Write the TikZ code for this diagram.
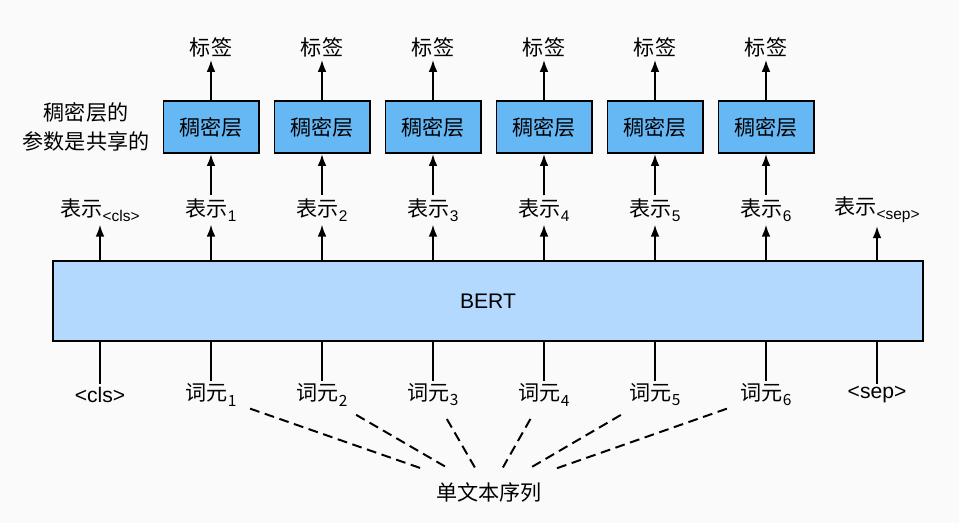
\documentclass[tikz,border=0pt]{standalone}
\usepackage{fontspec}
\setmainfont{Liberation Sans}
\newfontfamily\cjk{Noto Sans CJK SC}
\usetikzlibrary{arrows.meta,positioning}
\definecolor{densefill}{HTML}{66B8F5}
\definecolor{bertfill}{HTML}{B3D9FF}
\definecolor{bgcol}{HTML}{FAFAFA}
\newcommand{\lowtxt}[1]{\raisebox{-0.45ex}{\fontsize{11}{12}\selectfont #1}}

\begin{document}
\begin{tikzpicture}[x=0.025cm, y=-0.025cm,
      every node/.style={font=\fontsize{15}{18}\selectfont, inner sep=2pt},
      arr/.style={-{Latex[length=3mm,width=2.2mm]}, line width=1.4pt},
      ln/.style={line width=1.4pt},
      dsh/.style={line width=1.4pt, dash pattern=on 7pt off 4pt},
      densebox/.style={draw, line width=1.4pt, fill=densefill,
                       minimum width=2.375cm, minimum height=1.3cm},
      bertbox/.style={draw, line width=1.4pt, fill=bertfill,
                      minimum width=21.75cm, minimum height=2cm}
  ]

    % ---- Canvas ----
    \fill[bgcol] (0,0) rectangle (959,523);
    \useasboundingbox (0,0) rectangle (959,523);

    % ---- BERT block ----
    \node[bertbox] (bert) at (488,301) {BERT};

    % ---- Input tokens ----
    \node (tok0) at (100,395) {<cls>};
    \node (tok7) at (877,395) {<sep>};
    \foreach \i [evaluate=\i as \xx using 100+111*\i] in {1,...,6} {
      \node (tok\i) at (\xx,395) {\cjk 词元\lowtxt{\i}};
    }

    % ---- Output representations ----
    \node (rep0) at (100,210) {\cjk 表示\lowtxt{\rmfamily<cls>}};
    \node (rep7) at (877,210) {\cjk 表示\lowtxt{\rmfamily<sep>}};
    \foreach \i [evaluate=\i as \xx using 100+111*\i] in {1,...,6} {
      \node (rep\i) at (\xx,210) {\cjk 表示\lowtxt{\rmfamily\i}};
    }

    % ---- Dense layers and labels ----
    \foreach \i [evaluate=\i as \xx using 100+111*\i] in {1,...,6} {
      \node[densebox] (dense\i) at (\xx,127) {\cjk 稠密层};
      \node (lbl\i) at (\xx,47) {\cjk 标签};
    }
    \node[align=center] (shared) at (86,127)
          {\cjk 稠密层的\\[3pt]\cjk 参数是共享的};

    % ---- Single text sequence ----
    \node[inner sep=0.3cm] (seq) at (489,492) {\cjk 单文本序列};

    % Connectors
    \foreach \i in {0,...,7} {
      \draw[ln] (bert.south -| tok\i) -- (tok\i);
      \draw[arr] (bert.north -| rep\i) -- (rep\i);
    }
    \foreach \i in {1,...,6} {
      \draw[arr] (rep\i) -- (dense\i);
      \draw[arr] (dense\i) -- (lbl\i);
      \draw[dsh, shorten <=8pt, shorten >=2pt] (tok\i) -- (seq);
    }

  \end{tikzpicture}
\end{document}
